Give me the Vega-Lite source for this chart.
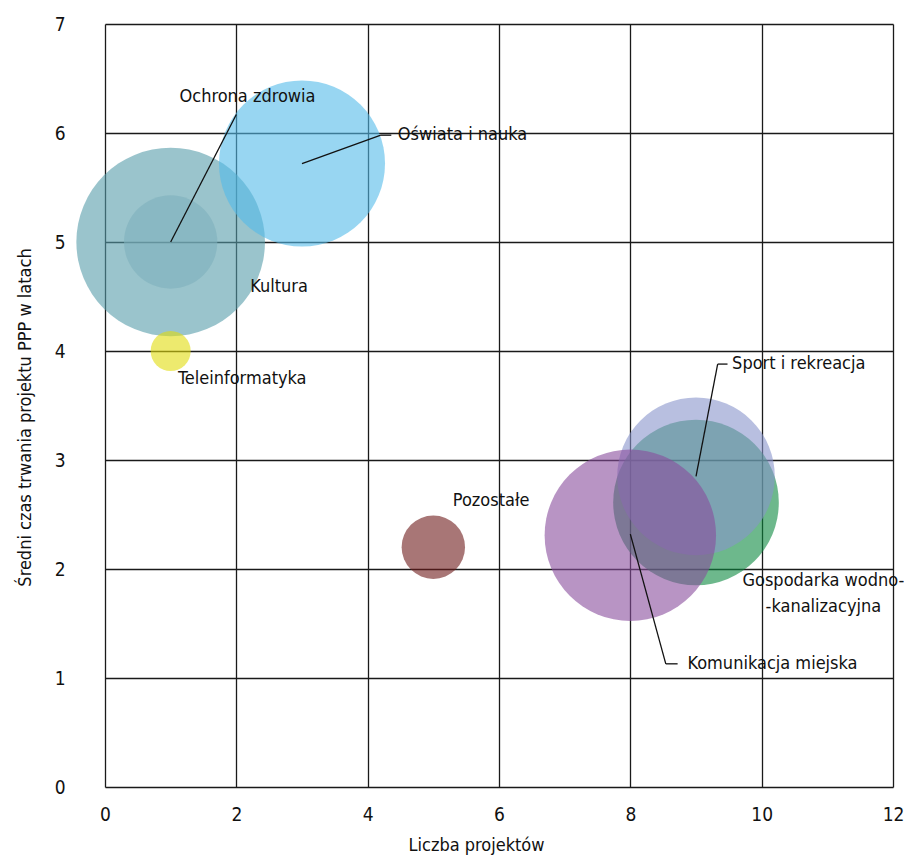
{
  "$schema": "https://vega.github.io/schema/vega-lite/v6.json",
  "width": 788,
  "height": 763,
  "autosize": {"type": "none"},
  "padding": {"left": 105, "top": 24, "right": 11, "bottom": 69},
  "background": "white",
  "config": {
    "view": {"stroke": null},
    "font": "DejaVu Sans Condensed",
    "axis": {
      "labelFont": "DejaVu Sans Condensed",
      "titleFont": "DejaVu Sans Condensed",
      "labelFontSize": 19,
      "titleFontSize": 18,
      "titleFontWeight": "normal",
      "labelColor": "#111",
      "titleColor": "#111",
      "labelFlush": false,
      "grid": true,
      "gridColor": "#1a1a1a",
      "gridOpacity": 1,
      "gridWidth": 1.3,
      "domain": false,
      "ticks": false,
      "format": "d"
    }
  },
  "layer": [
    {
      "data": {
        "values": [
          {"sektor": "Kultura", "projekty": 1, "czas": 5.0, "wartosc": 100},
          {"sektor": "Ochrona zdrowia", "projekty": 1, "czas": 5.0, "wartosc": 24.5},
          {"sektor": "Oświata i nauka", "projekty": 3, "czas": 5.72, "wartosc": 77.5},
          {"sektor": "Teleinformatyka", "projekty": 1, "czas": 4.0, "wartosc": 4.5},
          {"sektor": "Pozostałe", "projekty": 5, "czas": 2.2, "wartosc": 11.3},
          {"sektor": "Gospodarka wodno-kanalizacyjna", "projekty": 9, "czas": 2.61, "wartosc": 77.1},
          {"sektor": "Sport i rekreacja", "projekty": 9, "czas": 2.85, "wartosc": 69.8},
          {"sektor": "Komunikacja miejska", "projekty": 8, "czas": 2.31, "wartosc": 82.6}
        ]
      },
      "mark": {"type": "point", "shape": "circle", "filled": true, "opacity": 0.6, "strokeWidth": 0},
      "encoding": {
        "x": {
          "field": "projekty", "type": "quantitative",
          "scale": {"domain": [0, 12], "nice": false, "zero": true},
          "axis": {"values": [0, 2, 4, 6, 8, 10, 12], "title": "Liczba projektów", "labelPadding": 18, "titlePadding": 12, "titleX": 371}
        },
        "y": {
          "field": "czas", "type": "quantitative",
          "scale": {"domain": [0, 7], "nice": false},
          "axis": {"values": [0, 1, 2, 3, 4, 5, 6, 7], "title": "Średni czas trwania projektu PPP w latach", "labelPadding": 40, "titlePadding": 20, "titleY": 393}
        },
        "size": {
          "field": "wartosc", "type": "quantitative",
          "scale": {"type": "linear", "domain": [0, 100], "range": [0, 35570], "zero": true},
          "legend": null
        },
        "color": {
          "field": "sektor", "type": "nominal",
          "scale": {
            "domain": ["Kultura", "Ochrona zdrowia", "Oświata i nauka", "Teleinformatyka", "Pozostałe", "Gospodarka wodno-kanalizacyjna", "Sport i rekreacja", "Komunikacja miejska"],
            "range": ["#579daa", "#7fb0bd", "#53bbe9", "#e1dc0d", "#6e1b1b", "#0c893f", "#8994cb", "#894d9d"]
          },
          "legend": null
        }
      }
    },
    {
      "data": {
        "values": [
          {"x": 1.0, "y": 5.0, "x2": 2.0, "y2": 6.17},
          {"x": 3.0, "y": 5.72, "x2": 4.2, "y2": 5.98},
          {"x": 4.2, "y": 5.98, "x2": 4.36, "y2": 5.98},
          {"x": 9.0, "y": 2.85, "x2": 9.33, "y2": 3.88},
          {"x": 9.33, "y": 3.88, "x2": 9.48, "y2": 3.88},
          {"x": 8.0, "y": 2.32, "x2": 8.54, "y2": 1.13},
          {"x": 8.54, "y": 1.13, "x2": 8.72, "y2": 1.13}
        ]
      },
      "mark": {"type": "rule", "color": "#111", "strokeWidth": 1.3},
      "encoding": {
        "x": {"field": "x", "type": "quantitative"},
        "y": {"field": "y", "type": "quantitative"},
        "x2": {"field": "x2"},
        "y2": {"field": "y2"}
      }
    },
    {
      "data": {
        "values": [
          {"etykieta": "Ochrona zdrowia", "x": 2.17, "y": 6.33},
          {"etykieta": "Kultura", "x": 2.65, "y": 4.59},
          {"etykieta": "Teleinformatyka", "x": 2.09, "y": 3.74},
          {"etykieta": "Pozostałe", "x": 5.88, "y": 2.62},
          {"etykieta": "Gospodarka wodno-", "x": 10.94, "y": 1.89},
          {"etykieta": "-kanalizacyjna", "x": 10.94, "y": 1.65}
        ]
      },
      "mark": {"type": "text", "align": "center", "baseline": "middle", "fontSize": 18, "color": "#111"},
      "encoding": {
        "x": {"field": "x", "type": "quantitative"},
        "y": {"field": "y", "type": "quantitative"},
        "text": {"field": "etykieta"}
      }
    },
    {
      "data": {
        "values": [
          {"etykieta": "Oświata i nauka", "x": 4.46, "y": 5.98},
          {"etykieta": "Sport i rekreacja", "x": 9.55, "y": 3.88},
          {"etykieta": "Komunikacja miejska", "x": 8.87, "y": 1.13}
        ]
      },
      "mark": {"type": "text", "align": "left", "baseline": "middle", "fontSize": 18, "color": "#111"},
      "encoding": {
        "x": {"field": "x", "type": "quantitative"},
        "y": {"field": "y", "type": "quantitative"},
        "text": {"field": "etykieta"}
      }
    }
  ]
}
